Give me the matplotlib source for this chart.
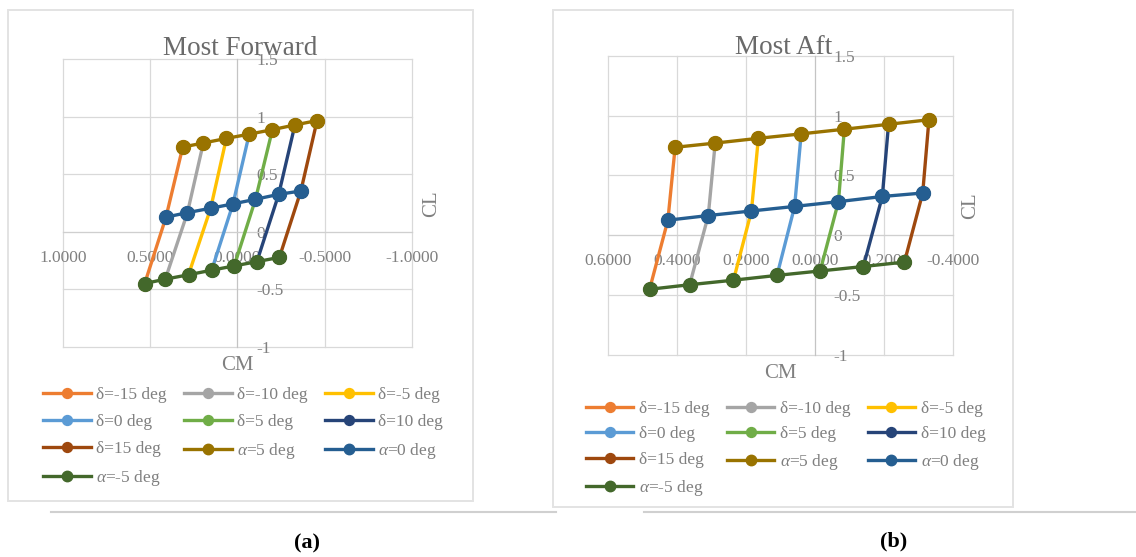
import matplotlib
matplotlib.use('Agg')
import matplotlib.pyplot as plt
from matplotlib.patches import Rectangle
from matplotlib.lines import Line2D
from matplotlib.ticker import FormatStrFormatter

plt.rcParams['font.family'] = ['Liberation Serif', 'DejaVu Serif']
plt.rcParams['mathtext.fontset'] = 'custom'
plt.rcParams['mathtext.rm'] = 'Liberation Serif'
plt.rcParams['mathtext.it'] = 'Liberation Serif:italic'

W, H = 1136, 557

# --- data ---
# CL for the three alpha lines, one point per elevator setting (delta -15 .. 15)
cl_a5 = [0.735, 0.770, 0.810, 0.847, 0.886, 0.927, 0.965]
cl_a0 = [0.126, 0.165, 0.203, 0.241, 0.281, 0.324, 0.353]
cl_am5 = [-0.451, -0.413, -0.375, -0.335, -0.298, -0.261, -0.224]

# CM, most forward CG
fwd_cm_a5 = [0.313, 0.195, 0.063, -0.068, -0.201, -0.330, -0.457]
fwd_cm_a0 = [0.409, 0.286, 0.153, 0.025, -0.104, -0.237, -0.364]
fwd_cm_am5 = [0.531, 0.413, 0.280, 0.147, 0.018, -0.112, -0.241]

# CM, most aft CG
aft_cm_a5 = [0.405, 0.289, 0.164, 0.040, -0.085, -0.213, -0.330]
aft_cm_a0 = [0.426, 0.309, 0.184, 0.059, -0.068, -0.195, -0.312]
aft_cm_am5 = [0.479, 0.363, 0.236, 0.110, -0.015, -0.140, -0.259]

delta_labels = ['δ=-15 deg', 'δ=-10 deg', 'δ=-5 deg', 'δ=0 deg',
                'δ=5 deg', 'δ=10 deg', 'δ=15 deg']
alpha_labels = [r'$\alpha$=5 deg', r'$\alpha$=0 deg', r'$\alpha$=-5 deg']

fwd_xticks = [1.0, 0.5, 0.0, -0.5, -1.0]
aft_xticks = [0.6, 0.4, 0.2, 0.0, -0.2, -0.4]
yticks = [1.5, 1.0, 0.5, 0.0, -0.5, -1.0]
ytick_labels = ['1.5', '1', '0.5', '0', '-0.5', '-1']

delta_colors = ['#ED7D31', '#A5A5A5', '#FFC000', '#5B9BD5',
                '#70AD47', '#264478', '#9E480E']
alpha_colors = ['#997300', '#255E91', '#43682B']

TXT = '#808080'
GRID = '#d9d9d9'


def fx(x):
    return x / W


def fy(y):
    return 1 - y / H


fig = plt.figure(figsize=(W / 100, H / 100), dpi=100)

# chart frames and the caption rules
fig.patches.append(Rectangle((fx(8), fy(501)), fx(472.7 - 8), (501 - 10) / H,
                             transform=fig.transFigure, fill=False,
                             ec='#e3e3e3', lw=1.4))
fig.patches.append(Rectangle((fx(553.3), fy(507.3)), fx(1012.7 - 553.3),
                             (507.3 - 10) / H, transform=fig.transFigure,
                             fill=False, ec='#e3e3e3', lw=1.4))
fig.add_artist(Line2D([fx(51), fx(556)], [fy(511.7), fy(511.7)],
                      transform=fig.transFigure, color='#d0d0d0', lw=1.5))
fig.add_artist(Line2D([fx(644), fx(1136)], [fy(511.7), fy(511.7)],
                      transform=fig.transFigure, color='#d0d0d0', lw=1.5))


def make_chart(box, xlim, xticks, cm5, cm0, cmm5, title, title_xy,
               cl_xy, cm_xy, leg_xy, leg_spacing):
    l, t, r, b = box
    ax = fig.add_axes([fx(l), fy(b), fx(r - l), (b - t) / H])
    handles = []
    for i in range(7):
        h, = ax.plot([cmm5[i], cm0[i], cm5[i]], [cl_am5[i], cl_a0[i], cl_a5[i]],
                     color=delta_colors[i], lw=2.4, marker='o', ms=9.5,
                     label=delta_labels[i], zorder=3)
        handles.append(h)
    for cm, cl, c, lab in zip([cm5, cm0, cmm5], [cl_a5, cl_a0, cl_am5],
                              alpha_colors, alpha_labels):
        h, = ax.plot(cm, cl, color=c, lw=2.4, marker='o', ms=10, label=lab,
                     zorder=4)
        handles.append(h)

    ax.set_xlim(*xlim)
    ax.set_ylim(-1, 1.5)
    ax.set_xticks(xticks)
    ax.xaxis.set_major_formatter(FormatStrFormatter('%.4f'))
    ax.set_yticks(yticks)
    ax.set_yticklabels(ytick_labels)
    ax.grid(True, color=GRID, lw=0.9, clip_on=False)
    ax.set_axisbelow(True)
    ax.spines['top'].set_visible(False)
    ax.spines['left'].set_visible(False)
    ax.spines['bottom'].set_position(('data', 0))
    ax.spines['right'].set_position(('data', 0))
    ax.spines['bottom'].set_color('#cfcfcf')
    ax.spines['right'].set_color('#c4c4c4')
    ax.yaxis.tick_right()
    ax.tick_params(axis='x', length=0, labelsize=12.5, labelcolor=TXT, pad=13)
    ax.tick_params(axis='y', length=0, labelsize=12.5, labelcolor=TXT, pad=13.5)
    for lab in ax.get_xticklabels() + ax.get_yticklabels():
        lab.set_zorder(2)

    fig.text(fx(title_xy[0]), fy(title_xy[1]), title, ha='center',
             va='baseline', fontsize=19.5, color='#6a6a6a')
    fig.text(fx(cl_xy[0]), fy(cl_xy[1]), 'CL', ha='center', va='center',
             rotation=90, fontsize=15, color=TXT)
    fig.text(fx(cm_xy[0]), fy(cm_xy[1]), 'CM', ha='center', va='center',
             fontsize=15, color=TXT)

    order = [0, 3, 6, 9, 1, 4, 7, 2, 5, 8]
    ax.legend([handles[k] for k in order], [handles[k].get_label() for k in order],
              ncol=3, loc='upper left', bbox_to_anchor=(fx(leg_xy[0]), fy(leg_xy[1])),
              bbox_transform=fig.transFigure, frameon=False, borderpad=0,
              borderaxespad=0, fontsize=12.5, labelcolor=TXT, handlelength=2.75,
              handletextpad=0.3, columnspacing=1.0, labelspacing=leg_spacing,
              markerscale=0.75)
    return ax


make_chart((62.9, 59, 411.8, 346.7), (1.0, -1.0), fwd_xticks,
           fwd_cm_a5, fwd_cm_a0, fwd_cm_am5, 'Most Forward', (240, 55),
           (432, 203.3), (237.3, 366), (42.9, 387), 0.62)
make_chart((607.8, 55.7, 953.1, 355), (0.6, -0.4), aft_xticks,
           aft_cm_a5, aft_cm_a0, aft_cm_am5, 'Most Aft', (783.7, 54),
           (970.7, 205.7), (780, 373.3), (585.7, 400.5), 0.55)

fig.text(fx(307), fy(543.3), '(a)', ha='center', va='center',
         fontsize=16, fontweight='bold', color='black')
fig.text(fx(894), fy(541), '(b)', ha='center', va='center',
         fontsize=16, fontweight='bold', color='black')

fig.savefig('out.png', dpi=100)
